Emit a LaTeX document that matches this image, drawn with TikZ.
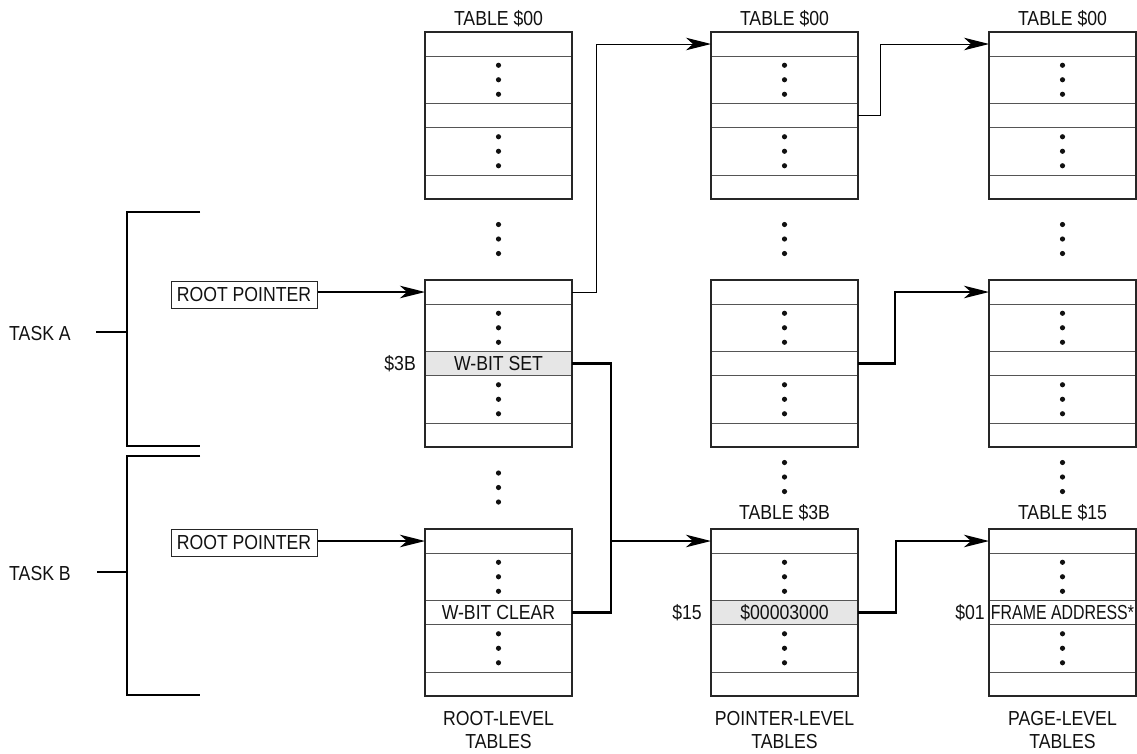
\documentclass[tikz,border=0pt]{standalone}
\usepackage{fontspec}
\setmainfont{Liberation Sans}[FakeStretch=0.87]
\usetikzlibrary{arrows.meta}
\definecolor{txt}{HTML}{111111}
\definecolor{rowline}{HTML}{555555}
\definecolor{hl}{HTML}{E6E6E6}
\newcommand{\memtable}[3]{%
  % #1 name, #2 left x, #3 top y
  \node[rowbox,anchor=north west] (#1-r1) at (#2,#3) {};
  \node[dotbox,anchor=north] (#1-d1) at (#1-r1.south) {};
  \node[rowbox,anchor=north] (#1-r2) at (#1-d1.south) {};
  \node[dotbox,anchor=north] (#1-d2) at (#1-r2.south) {};
  \node[rowbox,anchor=north] (#1-r3) at (#1-d2.south) {};
  \draw[outer] (#1-r1.north west) rectangle (#1-r3.south east);
  \foreach \s in {d1,d2}{
    \fill[txt] (#1-\s.center) circle (2.6) ++(0,-14.5) circle (2.6) ++(0,29) circle (2.6);
  }
}
\newcommand{\vdotsat}[2]{%
  \fill[txt] (#1,#2) circle (2.6) ++(0,-14.5) circle (2.6) ++(0,29) circle (2.6);
}
\begin{document}
\begin{tikzpicture}[x=1pt,y=-1pt,
  font=\fontsize{20.3}{23.5}\selectfont, text=txt,
  rowbox/.style={draw=rowline,line width=0.9pt,minimum width=147pt,minimum height=24pt,inner sep=0pt,outer sep=0pt},
  dotbox/.style={draw=rowline,line width=0.9pt,minimum width=147pt,minimum height=47.5pt,inner sep=0pt,outer sep=0pt},
  outer/.style={draw=black!85,line width=1.2pt},
  lbl/.style={inner sep=0pt},
  ptrbox/.style={draw=black!85,line width=1pt,minimum width=146pt,minimum height=26.5pt,inner sep=0pt},
  thinarrow/.style={line width=1pt,-{Stealth[length=25pt,width=12.5pt,inset=7pt]}},
  thickarrow/.style={line width=2.4pt,-{Stealth[length=25pt,width=12.5pt,inset=7pt]}},
  thickline/.style={line width=2.4pt},
  brk/.style={line width=1.1pt}]
\useasboundingbox (0,0) rectangle (1137,753);

% tables
\memtable{T1}{425}{32}
\memtable{T2}{425}{280}
\memtable{T3}{425}{529}
\memtable{P1}{711}{32}
\memtable{P2}{711}{280}
\memtable{P3}{711}{529}
\memtable{G1}{989}{32}
\memtable{G2}{989}{280}
\memtable{G3}{989}{529}

% highlighted rows
\node[rowbox,fill=hl,draw=rowline] (wset) at (T2-r2) {W-BIT SET};
\node[lbl] (wclr) at (T3-r2) {W-BIT CLEAR};
\node[rowbox,fill=hl,draw=rowline] (addr) at (P3-r2) {\$00003000};
\node[lbl] (frame) at (G3-r2) {\scalebox{0.9}[1]{FRAME ADDRESS*}};
\draw[outer] (T2-r1.north west) rectangle (T2-r3.south east);
\draw[outer] (P3-r1.north west) rectangle (P3-r3.south east);

% index labels
\node[lbl,anchor=east] (i3b) at ([xshift=-9pt]T2-r2.west) {\$3B};
\node[lbl,anchor=east] (i15) at ([xshift=-9pt]P3-r2.west) {\$15};
\node[lbl,anchor=east] (i01) at ([xshift=-4pt]G3-r2.west) {\$01};

% titles
\node[lbl] (tt1) at (498.5,18.5) {TABLE \$00};
\node[lbl] (tt2) at (784.5,18.5) {TABLE \$00};
\node[lbl] (tt3) at (1062.5,18.5) {TABLE \$00};
\node[lbl] (tt4) at (784.5,512.5) {TABLE \$3B};
\node[lbl] (tt5) at (1062.5,512.5) {TABLE \$15};

% column captions
\node[lbl,align=center] (c1) at (498.5,730) {ROOT-LEVEL\\TABLES};
\node[lbl,align=center] (c2) at (784.5,730) {POINTER-LEVEL\\TABLES};
\node[lbl,align=center] (c3) at (1062.5,730) {PAGE-LEVEL\\TABLES};

% vertical dots between tables
\vdotsat{498.5}{239}
\vdotsat{498.5}{487.5}
\vdotsat{784.5}{239}
\vdotsat{784.5}{477}
\vdotsat{1062.5}{239}
\vdotsat{1062.5}{477}

% tasks
\node[lbl] (taskA) at (40,334) {TASK A};
\node[lbl] (taskB) at (40,573.5) {TASK B};
\draw[brk] (200,212) -- (127,212) -- (127,446) -- (200,446);
\draw[brk] (96,332) -- (127,332);
\draw[brk] (200,456) -- (127,456) -- (127,695) -- (200,695);
\draw[brk] (97,572) -- (127,572);

% root pointers
\node[ptrbox] (rpA) at (244,295) {ROOT POINTER};
\node[ptrbox] (rpB) at (244,543) {ROOT POINTER};
\draw[thickarrow] (rpA.east |- T2-r1.west) -- (T2-r1.west);
\draw[thickarrow] (rpB.east |- T3-r1.west) -- (T3-r1.west);

% connectors
\draw[thinarrow] (T2-r1.east) -- ++(24,0) |- (P1-r1.west);
\draw[thinarrow] (P1-r2.east) -- ++(22,0) |- (G1-r1.west);
\coordinate (j) at (611,541);
\draw[thickline] (wset.east) -| (j);
\draw[thickline] (T3-r2.east) -| (j);
\draw[thickarrow] (j) -- (P3-r1.west);
\draw[thickarrow] (P2-r2.east) -- ++(37,0) |- (G2-r1.west);
\draw[thickarrow] (addr.east) -- ++(38,0) |- (G3-r1.west);
\end{tikzpicture}
\end{document}
